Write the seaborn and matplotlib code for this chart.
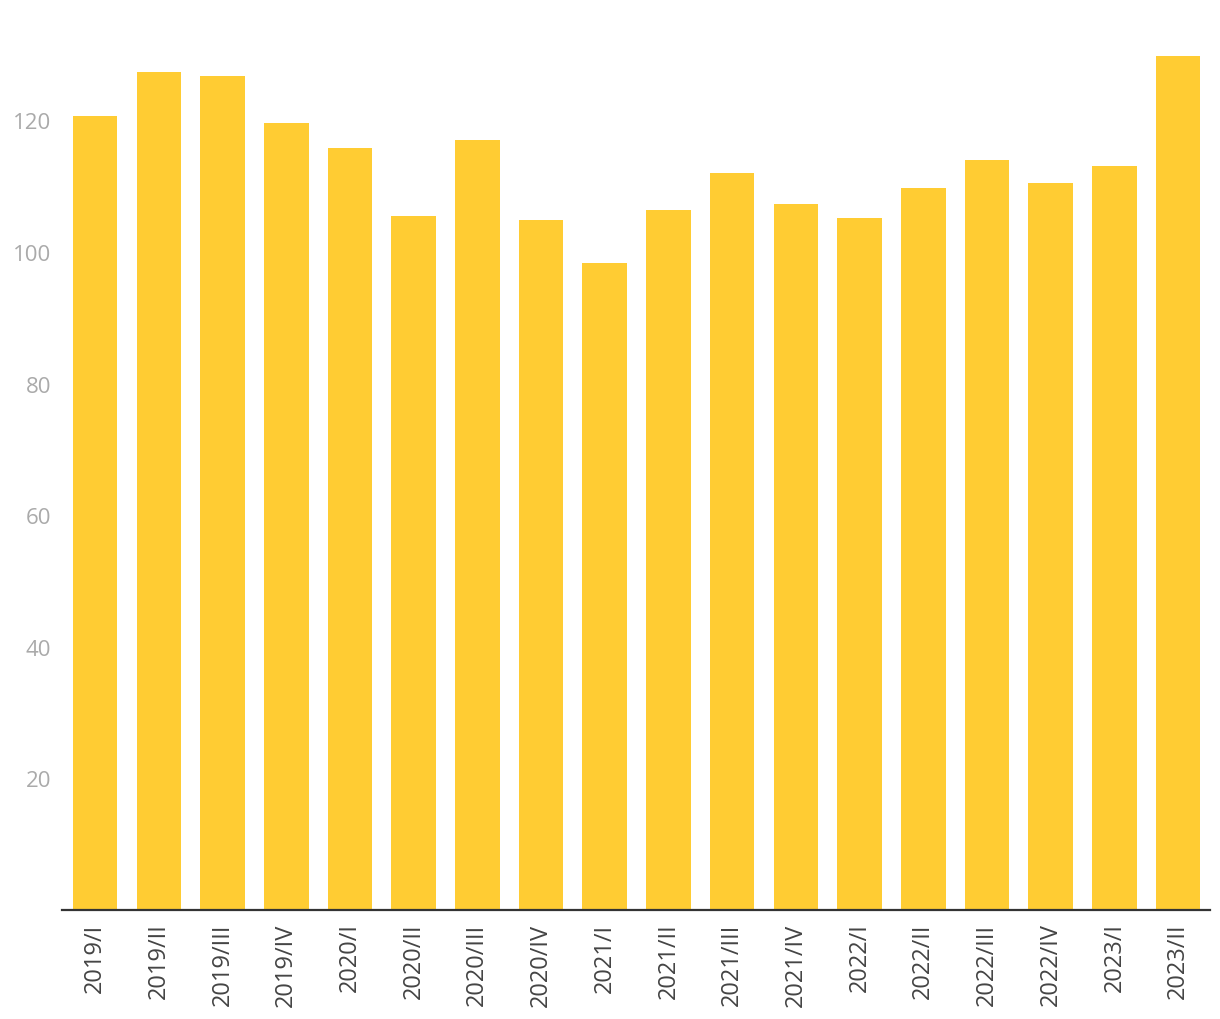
import matplotlib
matplotlib.use("Agg")
import matplotlib.pyplot as plt
import seaborn as sns
import pandas as pd

quarters = ["2019/I", "2019/II", "2019/III", "2019/IV",
            "2020/I", "2020/II", "2020/III", "2020/IV",
            "2021/I", "2021/II", "2021/III", "2021/IV",
            "2022/I", "2022/II", "2022/III", "2022/IV",
            "2023/I", "2023/II"]
values = [120.7, 127.4, 126.8, 119.6,
          115.8, 105.5, 117.0, 104.9,
          98.3, 106.4, 112.0, 107.3,
          105.2, 109.7, 114.0, 110.5,
          113.1, 129.8]
y_ticks = [20, 40, 60, 80, 100, 120]

sns.set_theme(style="white")
plt.rcParams['font.family'] = ['Open Sans', 'DejaVu Sans']

df = pd.DataFrame({"quarter": quarters, "value": values})

fig = plt.figure(figsize=(12.2, 10.2), dpi=100)
ax = fig.add_axes([62/1220, 109/1020, (1210-62)/1220, 892/1020])
sns.barplot(data=df, x="quarter", y="value", color="#FFCC33", saturation=1,
            width=0.7, ax=ax, edgecolor="none")
ax.set_xlim(-0.52, 17.5)
ax.set_ylim(0, 892/6.58)
ax.set_yticks(y_ticks)
ax.set_yticklabels([str(t) for t in y_ticks], fontsize=16, color="#AAAAAA")
ax.tick_params(axis="y", length=0, pad=8)
ax.tick_params(axis="x", length=0, pad=9, labelsize=17, labelcolor="#444444")
for lbl in ax.get_xticklabels():
    lbl.set_rotation(90)
ax.set_xlabel("")
ax.set_ylabel("")
for s in ["left", "right", "top"]:
    ax.spines[s].set_visible(False)
ax.spines["bottom"].set_color("#333333")
ax.spines["bottom"].set_linewidth(1.6)
ax.grid(False)
fig.savefig("out.png", dpi=100, facecolor="white")
